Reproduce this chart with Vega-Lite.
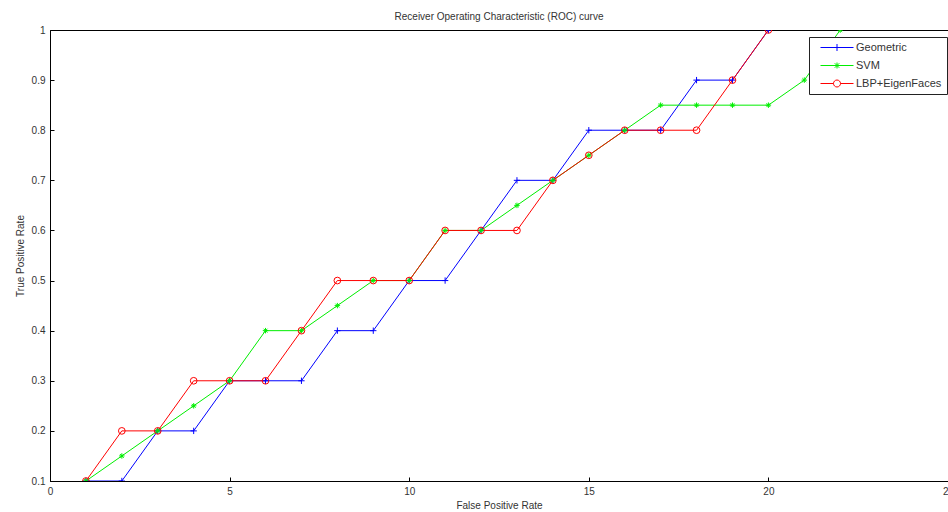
{
  "$schema": "https://vega.github.io/schema/vega-lite/v6.json",
  "width": 898,
  "height": 451,
  "autosize": {"type": "none"},
  "padding": {"left": 50, "top": 30, "right": 0, "bottom": 31},
  "background": "white",
  "title": {"text": "Receiver Operating Characteristic (ROC) curve", "font": "Liberation Sans", "fontSize": 10, "fontWeight": "normal", "color": "#333", "offset": 3, "anchor": "middle"},
  "config": {
    "view": {"stroke": "black", "strokeWidth": 1},
    "axis": {
      "grid": false, "domainColor": "black", "tickColor": "black", "tickSize": -4, "labelPadding": 9,
      "labelFont": "Liberation Sans", "labelFontSize": 10, "labelColor": "#333", "labelFlush": false,
      "titleFont": "Liberation Sans", "titleFontSize": 10, "titleFontWeight": "normal", "titleColor": "#333"
    },
    "legend": {"labelFont": "Liberation Sans", "labelFontSize": 11, "labelColor": "#333"}
  },
  "data": {"values": [
    {"series": "Geometric", "fpr": 1, "tpr": 0.1}, {"series": "Geometric", "fpr": 2, "tpr": 0.1}, {"series": "Geometric", "fpr": 3, "tpr": 0.2}, {"series": "Geometric", "fpr": 4, "tpr": 0.2}, {"series": "Geometric", "fpr": 5, "tpr": 0.3}, {"series": "Geometric", "fpr": 6, "tpr": 0.3}, {"series": "Geometric", "fpr": 7, "tpr": 0.3}, {"series": "Geometric", "fpr": 8, "tpr": 0.4}, {"series": "Geometric", "fpr": 9, "tpr": 0.4}, {"series": "Geometric", "fpr": 10, "tpr": 0.5}, {"series": "Geometric", "fpr": 11, "tpr": 0.5}, {"series": "Geometric", "fpr": 12, "tpr": 0.6}, {"series": "Geometric", "fpr": 13, "tpr": 0.7}, {"series": "Geometric", "fpr": 14, "tpr": 0.7}, {"series": "Geometric", "fpr": 15, "tpr": 0.8}, {"series": "Geometric", "fpr": 16, "tpr": 0.8}, {"series": "Geometric", "fpr": 17, "tpr": 0.8}, {"series": "Geometric", "fpr": 18, "tpr": 0.9}, {"series": "Geometric", "fpr": 19, "tpr": 0.9}, {"series": "Geometric", "fpr": 20, "tpr": 1.0},
    {"series": "SVM", "fpr": 1, "tpr": 0.1}, {"series": "SVM", "fpr": 2, "tpr": 0.15}, {"series": "SVM", "fpr": 3, "tpr": 0.2}, {"series": "SVM", "fpr": 4, "tpr": 0.25}, {"series": "SVM", "fpr": 5, "tpr": 0.3}, {"series": "SVM", "fpr": 6, "tpr": 0.4}, {"series": "SVM", "fpr": 7, "tpr": 0.4}, {"series": "SVM", "fpr": 8, "tpr": 0.45}, {"series": "SVM", "fpr": 9, "tpr": 0.5}, {"series": "SVM", "fpr": 10, "tpr": 0.5}, {"series": "SVM", "fpr": 11, "tpr": 0.6}, {"series": "SVM", "fpr": 12, "tpr": 0.6}, {"series": "SVM", "fpr": 13, "tpr": 0.65}, {"series": "SVM", "fpr": 14, "tpr": 0.7}, {"series": "SVM", "fpr": 15, "tpr": 0.75}, {"series": "SVM", "fpr": 16, "tpr": 0.8}, {"series": "SVM", "fpr": 17, "tpr": 0.85}, {"series": "SVM", "fpr": 18, "tpr": 0.85}, {"series": "SVM", "fpr": 19, "tpr": 0.85}, {"series": "SVM", "fpr": 20, "tpr": 0.85}, {"series": "SVM", "fpr": 21, "tpr": 0.9}, {"series": "SVM", "fpr": 22, "tpr": 1.0},
    {"series": "LBP+EigenFaces", "fpr": 1, "tpr": 0.1}, {"series": "LBP+EigenFaces", "fpr": 2, "tpr": 0.2}, {"series": "LBP+EigenFaces", "fpr": 3, "tpr": 0.2}, {"series": "LBP+EigenFaces", "fpr": 4, "tpr": 0.3}, {"series": "LBP+EigenFaces", "fpr": 5, "tpr": 0.3}, {"series": "LBP+EigenFaces", "fpr": 6, "tpr": 0.3}, {"series": "LBP+EigenFaces", "fpr": 7, "tpr": 0.4}, {"series": "LBP+EigenFaces", "fpr": 8, "tpr": 0.5}, {"series": "LBP+EigenFaces", "fpr": 9, "tpr": 0.5}, {"series": "LBP+EigenFaces", "fpr": 10, "tpr": 0.5}, {"series": "LBP+EigenFaces", "fpr": 11, "tpr": 0.6}, {"series": "LBP+EigenFaces", "fpr": 12, "tpr": 0.6}, {"series": "LBP+EigenFaces", "fpr": 13, "tpr": 0.6}, {"series": "LBP+EigenFaces", "fpr": 14, "tpr": 0.7}, {"series": "LBP+EigenFaces", "fpr": 15, "tpr": 0.75}, {"series": "LBP+EigenFaces", "fpr": 16, "tpr": 0.8}, {"series": "LBP+EigenFaces", "fpr": 17, "tpr": 0.8}, {"series": "LBP+EigenFaces", "fpr": 18, "tpr": 0.8}, {"series": "LBP+EigenFaces", "fpr": 19, "tpr": 0.9}, {"series": "LBP+EigenFaces", "fpr": 20, "tpr": 1.0}
  ]},
  "encoding": {
    "x": {"field": "fpr", "type": "quantitative", "scale": {"domain": [0, 25], "nice": false, "zero": false},
      "axis": {"values": [0, 5, 10, 15, 20, 25], "title": "False Positive Rate", "titlePadding": 4}},
    "y": {"field": "tpr", "type": "quantitative", "scale": {"domain": [0.1, 1], "nice": false, "zero": false},
      "axis": {"values": [0.1, 0.2, 0.3, 0.4, 0.5, 0.6, 0.7, 0.8, 0.9, 1.0], "format": ".1~f", "title": "True Positive Rate", "titlePadding": 6}}
  },
  "layer": [
    {
      "transform": [{"filter": "datum.series == 'Geometric'"}],
      "mark": {"type": "line", "strokeWidth": 1, "stroke": "#0000ff", "clip": true},
      "encoding": {}
    },
    {
      "transform": [{"filter": "datum.series == 'SVM'"}],
      "mark": {"type": "line", "strokeWidth": 1, "stroke": "#00ee00", "clip": true},
      "encoding": {}
    },
    {
      "transform": [{"filter": "datum.series == 'LBP+EigenFaces'"}],
      "mark": {"type": "line", "strokeWidth": 1, "stroke": "#ff0000", "clip": true},
      "encoding": {}
    },
    {
      "transform": [{"filter": "datum.series == 'Geometric'"}],
      "mark": {"type": "point", "shape": "M-1,0L1,0M0,-1L0,1", "size": 40, "filled": false, "stroke": "#0000ff", "strokeWidth": 1, "opacity": 1, "clip": true}
    },
    {
      "transform": [{"filter": "datum.series == 'SVM'"}],
      "mark": {"type": "point", "shape": "M-1,0L1,0M0,-1L0,1M-0.7,-0.7L0.7,0.7M-0.7,0.7L0.7,-0.7", "size": 30, "filled": false, "stroke": "#00ee00", "strokeWidth": 1, "opacity": 1, "clip": true}
    },
    {
      "transform": [{"filter": "datum.series == 'LBP+EigenFaces'"}],
      "mark": {"type": "point", "shape": "circle", "size": 45, "filled": false, "stroke": "#ff0000", "strokeWidth": 1, "opacity": 1, "clip": true}
    },
    {
      "transform": [{"filter": "datum.fpr < 0"}],
      "mark": {"type": "point", "filled": false, "size": 100, "strokeWidth": 1, "opacity": 1},
      "encoding": {
        "color": {"field": "series", "type": "nominal", "scale": {"domain": ["Geometric", "SVM", "LBP+EigenFaces"], "range": ["#0000ff", "#00ee00", "#ff0000"]},
          "legend": {"title": null, "orient": "none", "legendX": 759, "legendY": 7, "strokeColor": "#222", "fillColor": "white", "padding": 5, "rowPadding": 6, "symbolOffset": 17.5, "labelOffset": 13.5, "symbolSize": 100, "symbolStrokeWidth": 1}},
        "shape": {"field": "series", "type": "nominal", "scale": {"domain": ["Geometric", "SVM", "LBP+EigenFaces"], "range": [
          "M-3.3,0L3.3,0M0,-0.7L0,0.7",
          "M-3.3,0L3.3,0M0,-0.6L0,0.6M-0.45,-0.45L0.45,0.45M-0.45,0.45L0.45,-0.45",
          "M-3.3,0L-0.7,0M0.7,0L3.3,0M0.7,0A0.7,0.7 0 1,1 -0.7,0A0.7,0.7 0 1,1 0.7,0"
        ]}, "legend": {"title": null}}
      }
    }
  ]
}
